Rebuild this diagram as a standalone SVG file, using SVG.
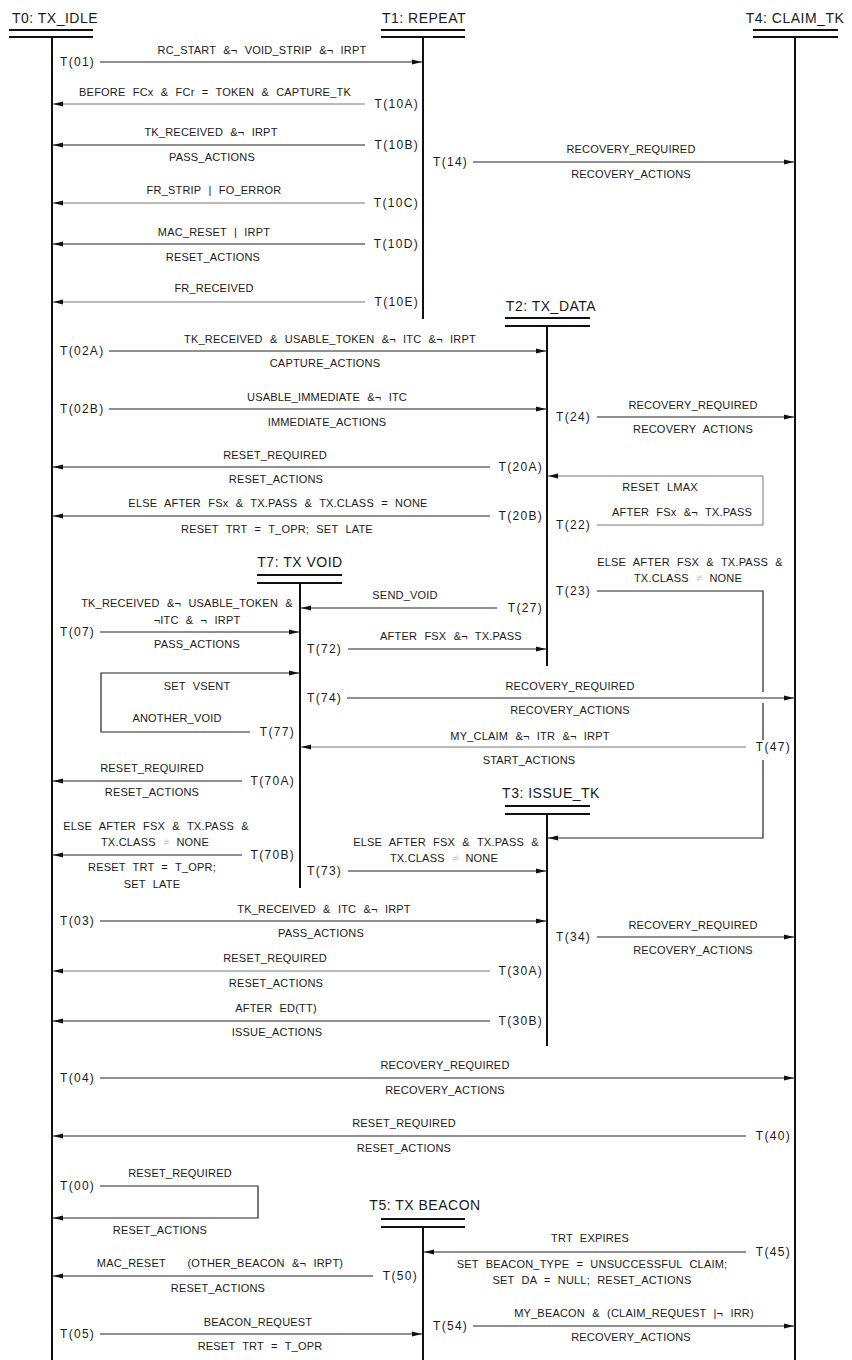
<svg xmlns="http://www.w3.org/2000/svg" width="852" height="1360" viewBox="0 0 852 1360">
<style>
text{font-family:"Liberation Sans",Arial,sans-serif;fill:#1a1a1a}
.ttl{font-size:14px;text-anchor:middle;letter-spacing:0.5px}
.t{font-size:11px;text-anchor:middle;letter-spacing:0.2px;word-spacing:4px}
.ls{font-size:12px;letter-spacing:1.3px;text-anchor:start}
.le{font-size:12px;letter-spacing:1.3px;text-anchor:end}
.bar{stroke:#111;stroke-width:2.2}
.life{stroke:#111;stroke-width:2}
.c{stroke:#222;stroke-width:1.2;fill:none}
.lt{stroke:#777;stroke-width:1;fill:none}
.f{fill:#ccc}
</style>
<defs>
<marker id="ah" viewBox="0 0 10 6" refX="10" refY="3" markerWidth="10" markerHeight="6" markerUnits="userSpaceOnUse" orient="auto"><path d="M0,0.5 L10,3 L0,5.5 z" fill="#111"/></marker>
</defs>
<rect width="852" height="1360" fill="#fff"/>

<g id="T0">
<text class="ttl" x="55" y="23">T0: TX_IDLE</text>
<line class="bar" x1="9" y1="30" x2="93" y2="30"/><line class="bar" x1="9" y1="37" x2="93" y2="37"/>
<line class="life" x1="52" y1="37" x2="52" y2="1360"/>
</g>
<g id="T1">
<text class="ttl" x="424" y="23">T1: REPEAT</text>
<line class="bar" x1="381" y1="30" x2="465" y2="30"/><line class="bar" x1="381" y1="37" x2="465" y2="37"/>
<line class="life" x1="423" y1="37" x2="423" y2="319"/>
</g>
<g id="T4">
<text class="ttl" x="795" y="23">T4: CLAIM_TK</text>
<line class="bar" x1="753" y1="30" x2="838" y2="30"/><line class="bar" x1="753" y1="37" x2="838" y2="37"/>
<line class="life" x1="795" y1="37" x2="795" y2="1360"/>
</g>
<g id="T2">
<text class="ttl" x="551" y="311">T2: TX_DATA</text>
<line class="bar" x1="505" y1="318" x2="590" y2="318"/><line class="bar" x1="505" y1="326" x2="590" y2="326"/>
<line class="life" x1="547" y1="326" x2="547" y2="666"/>
</g>
<g id="T7">
<text class="ttl" x="300" y="567">T7: TX VOID</text>
<line class="bar" x1="257" y1="575" x2="342" y2="575"/><line class="bar" x1="257" y1="583" x2="342" y2="583"/>
<line class="life" x1="300" y1="583" x2="300" y2="888"/>
</g>
<g id="T3">
<text class="ttl" x="551" y="798">T3: ISSUE_TK</text>
<line class="bar" x1="505" y1="806" x2="590" y2="806"/><line class="bar" x1="505" y1="814" x2="590" y2="814"/>
<line class="life" x1="547" y1="814" x2="547" y2="1046"/>
</g>
<g id="T5">
<text class="ttl" x="425" y="1210">T5: TX BEACON</text>
<line class="bar" x1="381" y1="1219" x2="465" y2="1219"/><line class="bar" x1="381" y1="1227" x2="465" y2="1227"/>
<line class="life" x1="423" y1="1227" x2="423" y2="1360"/>
</g>

<g id="connectors">
<g id="c01"><line class="c" x1="100" y1="62" x2="422" y2="62" marker-end="url(#ah)"/><text class="ls" x="60" y="66">T(01)</text><text class="t" x="262" y="54">RC_START &amp;¬ VOID_STRIP &amp;¬ IRPT</text></g>
<g id="c10A"><line class="lt" x1="365" y1="104" x2="53" y2="104" marker-end="url(#ah)"/><text class="le" x="419" y="108">T(10A)</text><text class="t" x="215" y="96">BEFORE FCx &amp; FCr = TOKEN &amp; CAPTURE_TK</text></g>
<g id="c10B"><line class="c" x1="365" y1="145" x2="53" y2="145" marker-end="url(#ah)"/><text class="le" x="419" y="149">T(10B)</text><text class="t" x="211" y="136">TK_RECEIVED &amp;¬ IRPT</text><text class="t" x="212" y="161">PASS_ACTIONS</text></g>
<g id="c10C"><line class="lt" x1="365" y1="203" x2="53" y2="203" marker-end="url(#ah)"/><text class="le" x="419" y="207">T(10C)</text><text class="t" x="214" y="194">FR_STRIP | FO_ERROR</text></g>
<g id="c10D"><line class="c" x1="365" y1="244" x2="53" y2="244" marker-end="url(#ah)"/><text class="le" x="419" y="248">T(10D)</text><text class="t" x="214" y="236">MAC_RESET | IRPT</text><text class="t" x="213" y="261">RESET_ACTIONS</text></g>
<g id="c10E"><line class="lt" x1="365" y1="302" x2="53" y2="302" marker-end="url(#ah)"/><text class="le" x="419" y="306">T(10E)</text><text class="t" x="214" y="292">FR_RECEIVED</text></g>
<g id="c14"><line class="c" x1="473" y1="162" x2="794" y2="162" marker-end="url(#ah)"/><text class="ls" x="433" y="166">T(14)</text><text class="t" x="631" y="153">RECOVERY_REQUIRED</text><text class="t" x="631" y="178">RECOVERY_ACTIONS</text></g>
<g id="c02A"><line class="c" x1="109" y1="351" x2="546" y2="351" marker-end="url(#ah)"/><text class="ls" x="60" y="355">T(02A)</text><text class="t" x="330" y="343">TK_RECEIVED &amp; USABLE_TOKEN &amp;¬ ITC &amp;¬ IRPT</text><text class="t" x="325" y="367">CAPTURE_ACTIONS</text></g>
<g id="c02B"><line class="c" x1="109" y1="409" x2="546" y2="409" marker-end="url(#ah)"/><text class="ls" x="60" y="413">T(02B)</text><text class="t" x="327" y="401">USABLE_IMMEDIATE &amp;¬ ITC</text><text class="t" x="327" y="426">IMMEDIATE_ACTIONS</text></g>
<g id="c24"><line class="c" x1="597" y1="417" x2="794" y2="417" marker-end="url(#ah)"/><text class="ls" x="556" y="421">T(24)</text><text class="t" x="693" y="409">RECOVERY_REQUIRED</text><text class="t" x="693" y="433">RECOVERY ACTIONS</text></g>
<g id="c20A"><line class="c" x1="490" y1="467" x2="53" y2="467" marker-end="url(#ah)"/><text class="le" x="543" y="471">T(20A)</text><text class="t" x="275" y="459">RESET_REQUIRED</text><text class="t" x="276" y="483">RESET_ACTIONS</text></g>
<g id="c20B"><line class="c" x1="490" y1="516" x2="53" y2="516" marker-end="url(#ah)"/><text class="le" x="543" y="520">T(20B)</text><text class="t" x="278" y="507">ELSE AFTER FSx &amp; TX.PASS &amp; TX.CLASS = NONE</text><text class="t" x="277" y="533">RESET TRT = T_OPR; SET LATE</text></g>
<g id="c22"><path class="lt" d="M597,525 H763 V476 H548" marker-end="url(#ah)"/><text class="ls" x="556" y="529">T(22)</text><text class="t" x="660" y="491">RESET LMAX</text><text class="t" x="682" y="516">AFTER FSx &amp;¬ TX.PASS</text></g>
<g id="c23"><path class="c" d="M597,591 H763 V692 M763,703 V740 M763,760 V838 H548" marker-end="url(#ah)"/><text class="ls" x="556" y="595">T(23)</text><text class="t" x="690" y="566">ELSE AFTER FSX &amp; TX.PASS &amp;</text><text class="t" x="688" y="582">TX.CLASS <tspan class="f">≠</tspan> NONE</text></g>
<g id="c27"><line class="c" x1="497" y1="608" x2="301" y2="608" marker-end="url(#ah)"/><text class="le" x="543" y="612">T(27)</text><text class="t" x="405" y="599">SEND_VOID</text></g>
<g id="c07"><line class="c" x1="100" y1="632" x2="299" y2="632" marker-end="url(#ah)"/><text class="ls" x="60" y="636">T(07)</text><text class="t" x="187" y="607">TK_RECEIVED &amp;¬ USABLE_TOKEN &amp;</text><text class="t" x="197" y="624">¬ITC &amp; ¬ IRPT</text><text class="t" x="197" y="648">PASS_ACTIONS</text></g>
<g id="c72"><line class="c" x1="348" y1="649" x2="546" y2="649" marker-end="url(#ah)"/><text class="ls" x="307" y="653">T(72)</text><text class="t" x="451" y="640">AFTER FSX &amp;¬ TX.PASS</text></g>
<g id="c77"><path class="c" d="M250,732 H101 V673 H299" marker-end="url(#ah)"/><text class="le" x="295" y="736">T(77)</text><text class="t" x="197" y="690">SET VSENT</text><text class="t" x="177" y="722">ANOTHER_VOID</text></g>
<g id="c74"><line class="c" x1="347" y1="698" x2="794" y2="698" marker-end="url(#ah)"/><text class="ls" x="307" y="702">T(74)</text><text class="t" x="570" y="690">RECOVERY_REQUIRED</text><text class="t" x="570" y="714">RECOVERY_ACTIONS</text></g>
<g id="c47"><line class="lt" x1="746" y1="747" x2="301" y2="747" marker-end="url(#ah)"/><text class="le" x="791" y="751">T(47)</text><text class="t" x="530" y="740">MY_CLAIM &amp;¬ ITR &amp;¬ IRPT</text><text class="t" x="529" y="764">START_ACTIONS</text></g>
<g id="c70A"><line class="c" x1="242" y1="781" x2="53" y2="781" marker-end="url(#ah)"/><text class="le" x="295" y="785">T(70A)</text><text class="t" x="152" y="772">RESET_REQUIRED</text><text class="t" x="152" y="796">RESET_ACTIONS</text></g>
<g id="c70B"><line class="c" x1="242" y1="855" x2="53" y2="855" marker-end="url(#ah)"/><text class="le" x="295" y="859">T(70B)</text><text class="t" x="156" y="830">ELSE AFTER FSX &amp; TX.PASS &amp;</text><text class="t" x="155" y="846">TX.CLASS <tspan class="f">≠</tspan> NONE</text><text class="t" x="152" y="871">RESET TRT = T_OPR;</text><text class="t" x="152" y="888">SET LATE</text></g>
<g id="c73"><line class="c" x1="348" y1="871" x2="546" y2="871" marker-end="url(#ah)"/><text class="ls" x="307" y="875">T(73)</text><text class="t" x="446" y="846">ELSE AFTER FSX &amp; TX.PASS &amp;</text><text class="t" x="444" y="862">TX.CLASS <tspan class="f">≠</tspan> NONE</text></g>
<g id="c03"><line class="c" x1="100" y1="921" x2="546" y2="921" marker-end="url(#ah)"/><text class="ls" x="60" y="925">T(03)</text><text class="t" x="324" y="913">TK_RECEIVED &amp; ITC &amp;¬ IRPT</text><text class="t" x="321" y="937">PASS_ACTIONS</text></g>
<g id="c34"><line class="c" x1="597" y1="937" x2="794" y2="937" marker-end="url(#ah)"/><text class="ls" x="556" y="941">T(34)</text><text class="t" x="693" y="929">RECOVERY_REQUIRED</text><text class="t" x="693" y="954">RECOVERY_ACTIONS</text></g>
<g id="c30A"><line class="lt" x1="490" y1="971" x2="53" y2="971" marker-end="url(#ah)"/><text class="le" x="543" y="975">T(30A)</text><text class="t" x="275" y="962">RESET_REQUIRED</text><text class="t" x="276" y="987">RESET_ACTIONS</text></g>
<g id="c30B"><line class="c" x1="490" y1="1021" x2="53" y2="1021" marker-end="url(#ah)"/><text class="le" x="543" y="1025">T(30B)</text><text class="t" x="276" y="1012">AFTER ED(TT)</text><text class="t" x="277" y="1036">ISSUE_ACTIONS</text></g>
<g id="c04"><line class="c" x1="100" y1="1078" x2="794" y2="1078" marker-end="url(#ah)"/><text class="ls" x="60" y="1082">T(04)</text><text class="t" x="445" y="1069">RECOVERY_REQUIRED</text><text class="t" x="445" y="1094">RECOVERY_ACTIONS</text></g>
<g id="c40"><line class="c" x1="746" y1="1136" x2="53" y2="1136" marker-end="url(#ah)"/><text class="le" x="791" y="1140">T(40)</text><text class="t" x="404" y="1127">RESET_REQUIRED</text><text class="t" x="404" y="1152">RESET_ACTIONS</text></g>
<g id="c00"><path class="c" d="M100,1186 H258 V1218 H53" marker-end="url(#ah)"/><text class="ls" x="60" y="1190">T(00)</text><text class="t" x="180" y="1177">RESET_REQUIRED</text><text class="t" x="160" y="1234">RESET_ACTIONS</text></g>
<g id="c45"><line class="c" x1="746" y1="1252" x2="424" y2="1252" marker-end="url(#ah)"/><text class="le" x="791" y="1256">T(45)</text><text class="t" x="590" y="1242">TRT EXPIRES</text><text class="t" x="592" y="1268">SET BEACON_TYPE = UNSUCCESSFUL CLAIM;</text><text class="t" x="592" y="1284">SET DA = NULL; RESET_ACTIONS</text></g>
<g id="c50"><line class="c" x1="373" y1="1276" x2="53" y2="1276" marker-end="url(#ah)"/><text class="le" x="418" y="1280">T(50)</text><text class="t" x="220" y="1267" xml:space="preserve" style="white-space:pre">MAC_RESET   (OTHER_BEACON &amp;¬ IRPT)</text><text class="t" x="218" y="1292">RESET_ACTIONS</text></g>
<g id="c05"><line class="c" x1="100" y1="1334" x2="422" y2="1334" marker-end="url(#ah)"/><text class="ls" x="60" y="1338">T(05)</text><text class="t" x="258" y="1326">BEACON_REQUEST</text><text class="t" x="260" y="1350">RESET TRT = T_OPR</text></g>
<g id="c54"><line class="c" x1="473" y1="1326" x2="794" y2="1326" marker-end="url(#ah)"/><text class="ls" x="433" y="1330">T(54)</text><text class="t" x="634" y="1317">MY_BEACON &amp; (CLAIM_REQUEST |¬ IRR)</text><text class="t" x="631" y="1341">RECOVERY_ACTIONS</text></g>
</g>
</svg>
